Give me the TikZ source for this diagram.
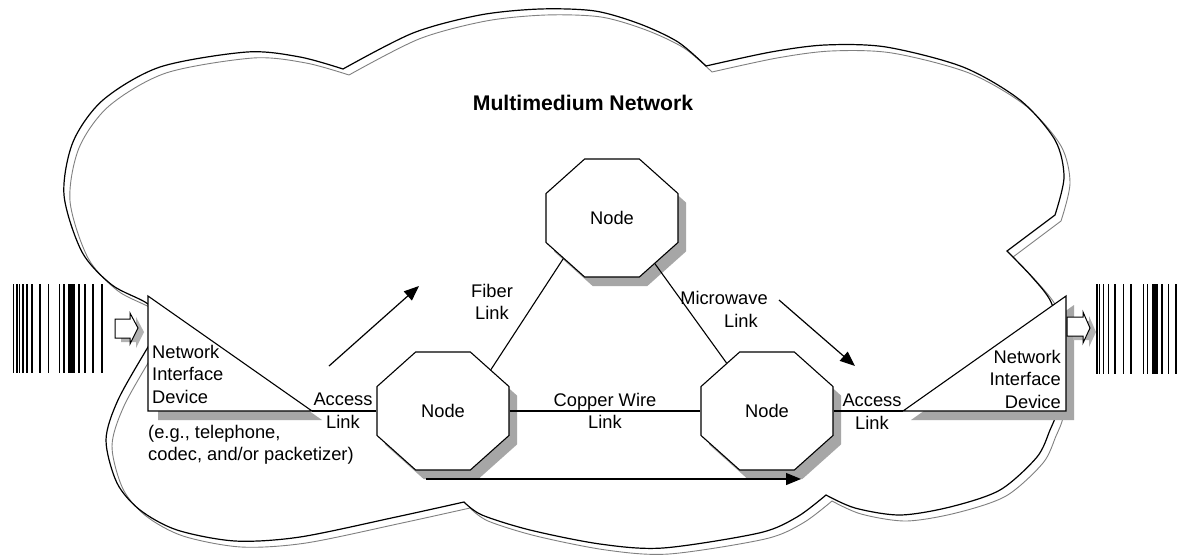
\documentclass[tikz,border=0pt]{standalone}
\usepackage{fontspec}
\setmainfont{Liberation Sans}
\usetikzlibrary{shapes.geometric,shadows,arrows.meta}
\begin{document}
\begin{tikzpicture}[x=1pt,y=-1pt,
  cloudline/.style={line width=1.2pt,black},
  cloudshade/.style={line width=0.9pt,black!50},
  netnode/.style={regular polygon, regular polygon sides=8, draw, fill=white,
     line width=1.1pt, minimum size=142.9pt, inner sep=0pt,
     transform shape, yscale=0.894,
     drop shadow={shadow xshift=8pt,shadow yshift=-9pt,fill=black!35,opacity=1}},
  nodetext/.style={inner sep=0pt, font=\fontsize{18.3}{22}\selectfont},
  lbl/.style={inner sep=0pt, align=center, font=\fontsize{18.3}{22.5}\selectfont},
  link/.style={line width=1.1pt},
  flow/.style={line width=1.2pt,-{Triangle[length=15pt,width=12pt]}},
  bar/.style={line width=1.6pt},
  thickbar/.style={line width=6.7pt},
  device/.style={draw, fill=white, line width=1.1pt, line join=miter},
  devshadow/.style={fill=black!35},
  blockarrow/.style={draw, fill=white, line width=1pt},
  blockshadow/.style={fill=black!30}
]
\useasboundingbox (0,0) rectangle (1182,555);
\fill[white] (0,0) rectangle (1182,555);

% cloud outline
\def\cloudpath{plot[smooth] coordinates {(162,325) (148,304) (112,285) (82,252) (64,195) (73,142) (103,100) (160,67) (247,52) (300,57) (343,69)}
 -- plot[smooth] coordinates {(343,69) (413,33) (480,15) (540,9) (595,11) (640,24) (678,42) (706,66)}
 -- plot[smooth] coordinates {(706,66) (771,52) (825,45) (886,47) (963,67) (1020,100) (1055,140) (1064,177) (1055,215)}
 -- (1007,251)
 -- plot[smooth] coordinates {(1007,251) (1032,277) (1051,302) (1061,340) (1063,380) (1057,412) (1050,430) (1037,457) (1000,490) (950,507) (900,515) (855,508) (826,495)}
 -- plot[smooth] coordinates {(826,495) (797,517) (759,533) (663,548) (600,544) (530,530) (482,515) (464,502)}
 -- plot[smooth] coordinates {(464,502) (396,517) (300,537) (235,541) (177,530) (140,510) (117,483) (106,440) (118,400) (148,347) (162,325)}
 -- cycle}
\draw[cloudshade, shift={(6,6)}] \cloudpath;
\draw[cloudline] \cloudpath;

% network interface devices
\fill[devshadow, shift={(10,9)}] (148,296) -- (148,411) -- (312,411) -- cycle;
\draw[device] (148,296) -- (148,411) -- (312,411) -- cycle;
\coordinate (accL) at (312,411);
\fill[devshadow, shift={(8,9)}] (1066,296) -- (1066,411) -- (903,411) -- cycle;
\draw[device] (1066,296) -- (1066,411) -- (903,411) -- cycle;
\coordinate (accR) at (903,411);

% block arrows
\fill[blockshadow, shift={(6,4)}] (115,319) -- (130,319) -- (130,313) -- (138,328) -- (130,344) -- (130,338) -- (115,338) -- cycle;
\draw[blockarrow] (115,319) -- (130,319) -- (130,313) -- (138,328) -- (130,344) -- (130,338) -- (115,338) -- cycle;
\fill[blockshadow, shift={(6,4)}] (1067,317) -- (1083,317) -- (1083,312) -- (1090,328) -- (1083,343) -- (1083,336) -- (1067,336) -- cycle;
\draw[blockarrow] (1067,317) -- (1083,317) -- (1083,312) -- (1090,328) -- (1083,343) -- (1083,336) -- (1067,336) -- cycle;

% barcodes
\foreach \x in {13.3,16.7,19.3,22.7,26.7,31.7,40,48.3,59.3,64,79,85,92.7,101.7}
  \draw[bar] (\x,284) -- (\x,373);
\draw[thickbar] (71.7,284) -- (71.7,373);
\foreach \x in {1096.7,1099.3,1103.3,1108.3,1115,1123.3,1130.7,1143.3,1147.3,1161.7,1168.3,1176}
  \draw[bar] (\x,284) -- (\x,374);
\draw[thickbar] (1155,284) -- (1155,374);

% nodes
\node[netnode] (nT) at (612,218) {};
\node[netnode] (nL) at (443,411) {};
\node[netnode] (nR) at (767,411) {};
\node[nodetext] (tT) at (nT) {Node};
\node[nodetext] (tL) at (nL) {Node};
\node[nodetext] (tR) at (nR) {Node};

% links
\draw[link] (nT.223) -- (nL.44);
\draw[link] (nT.310) -- (nR.127);
\draw[link] (nL) -- (nR);
\draw[link] (accL) -- (nL);
\draw[link] (nR) -- (accR);

% flow arrows
\coordinate (f1a) at (329,366); \coordinate (f1b) at (419,286);
\coordinate (f2a) at (779,300); \coordinate (f2b) at (855,366);
\coordinate (f3a) at (426,479); \coordinate (f3b) at (801,479);
\draw[flow] (f1a) -- (f1b);
\draw[flow] (f2a) -- (f2b);
\draw[flow] (f3a) -- (f3b);

% labels
\node[inner sep=0pt, anchor=north, font=\fontsize{21.2}{25}\selectfont\bfseries] (title) at (583,95) {Multimedium Network};
\node[lbl, anchor=north west, align=left] (nidL) at (152,345) {Network\\Interface\\Device};
\node[lbl, anchor=north west, align=left] (eg) at (148,425) {(e.g., telephone,\\codec, and/or packetizer)};
\node[lbl, anchor=north east, align=right] (nidR) at (1061,350) {Network\\Interface\\Device};
\node[lbl, anchor=north] (accLt) at (343,393) {Access\\Link};
\node[lbl, anchor=north] (accRt) at (872,394) {Access\\Link};
\node[lbl, anchor=north] (fib) at (492,284) {Fiber\\Link};
\node[lbl, anchor=north] (micA) at (724,291) {Microwave};
\node[lbl, anchor=north] (micB) at (741,314) {Link};
\node[lbl, anchor=north] (cop) at (605,393) {Copper Wire\\Link};
\end{tikzpicture}
\end{document}
